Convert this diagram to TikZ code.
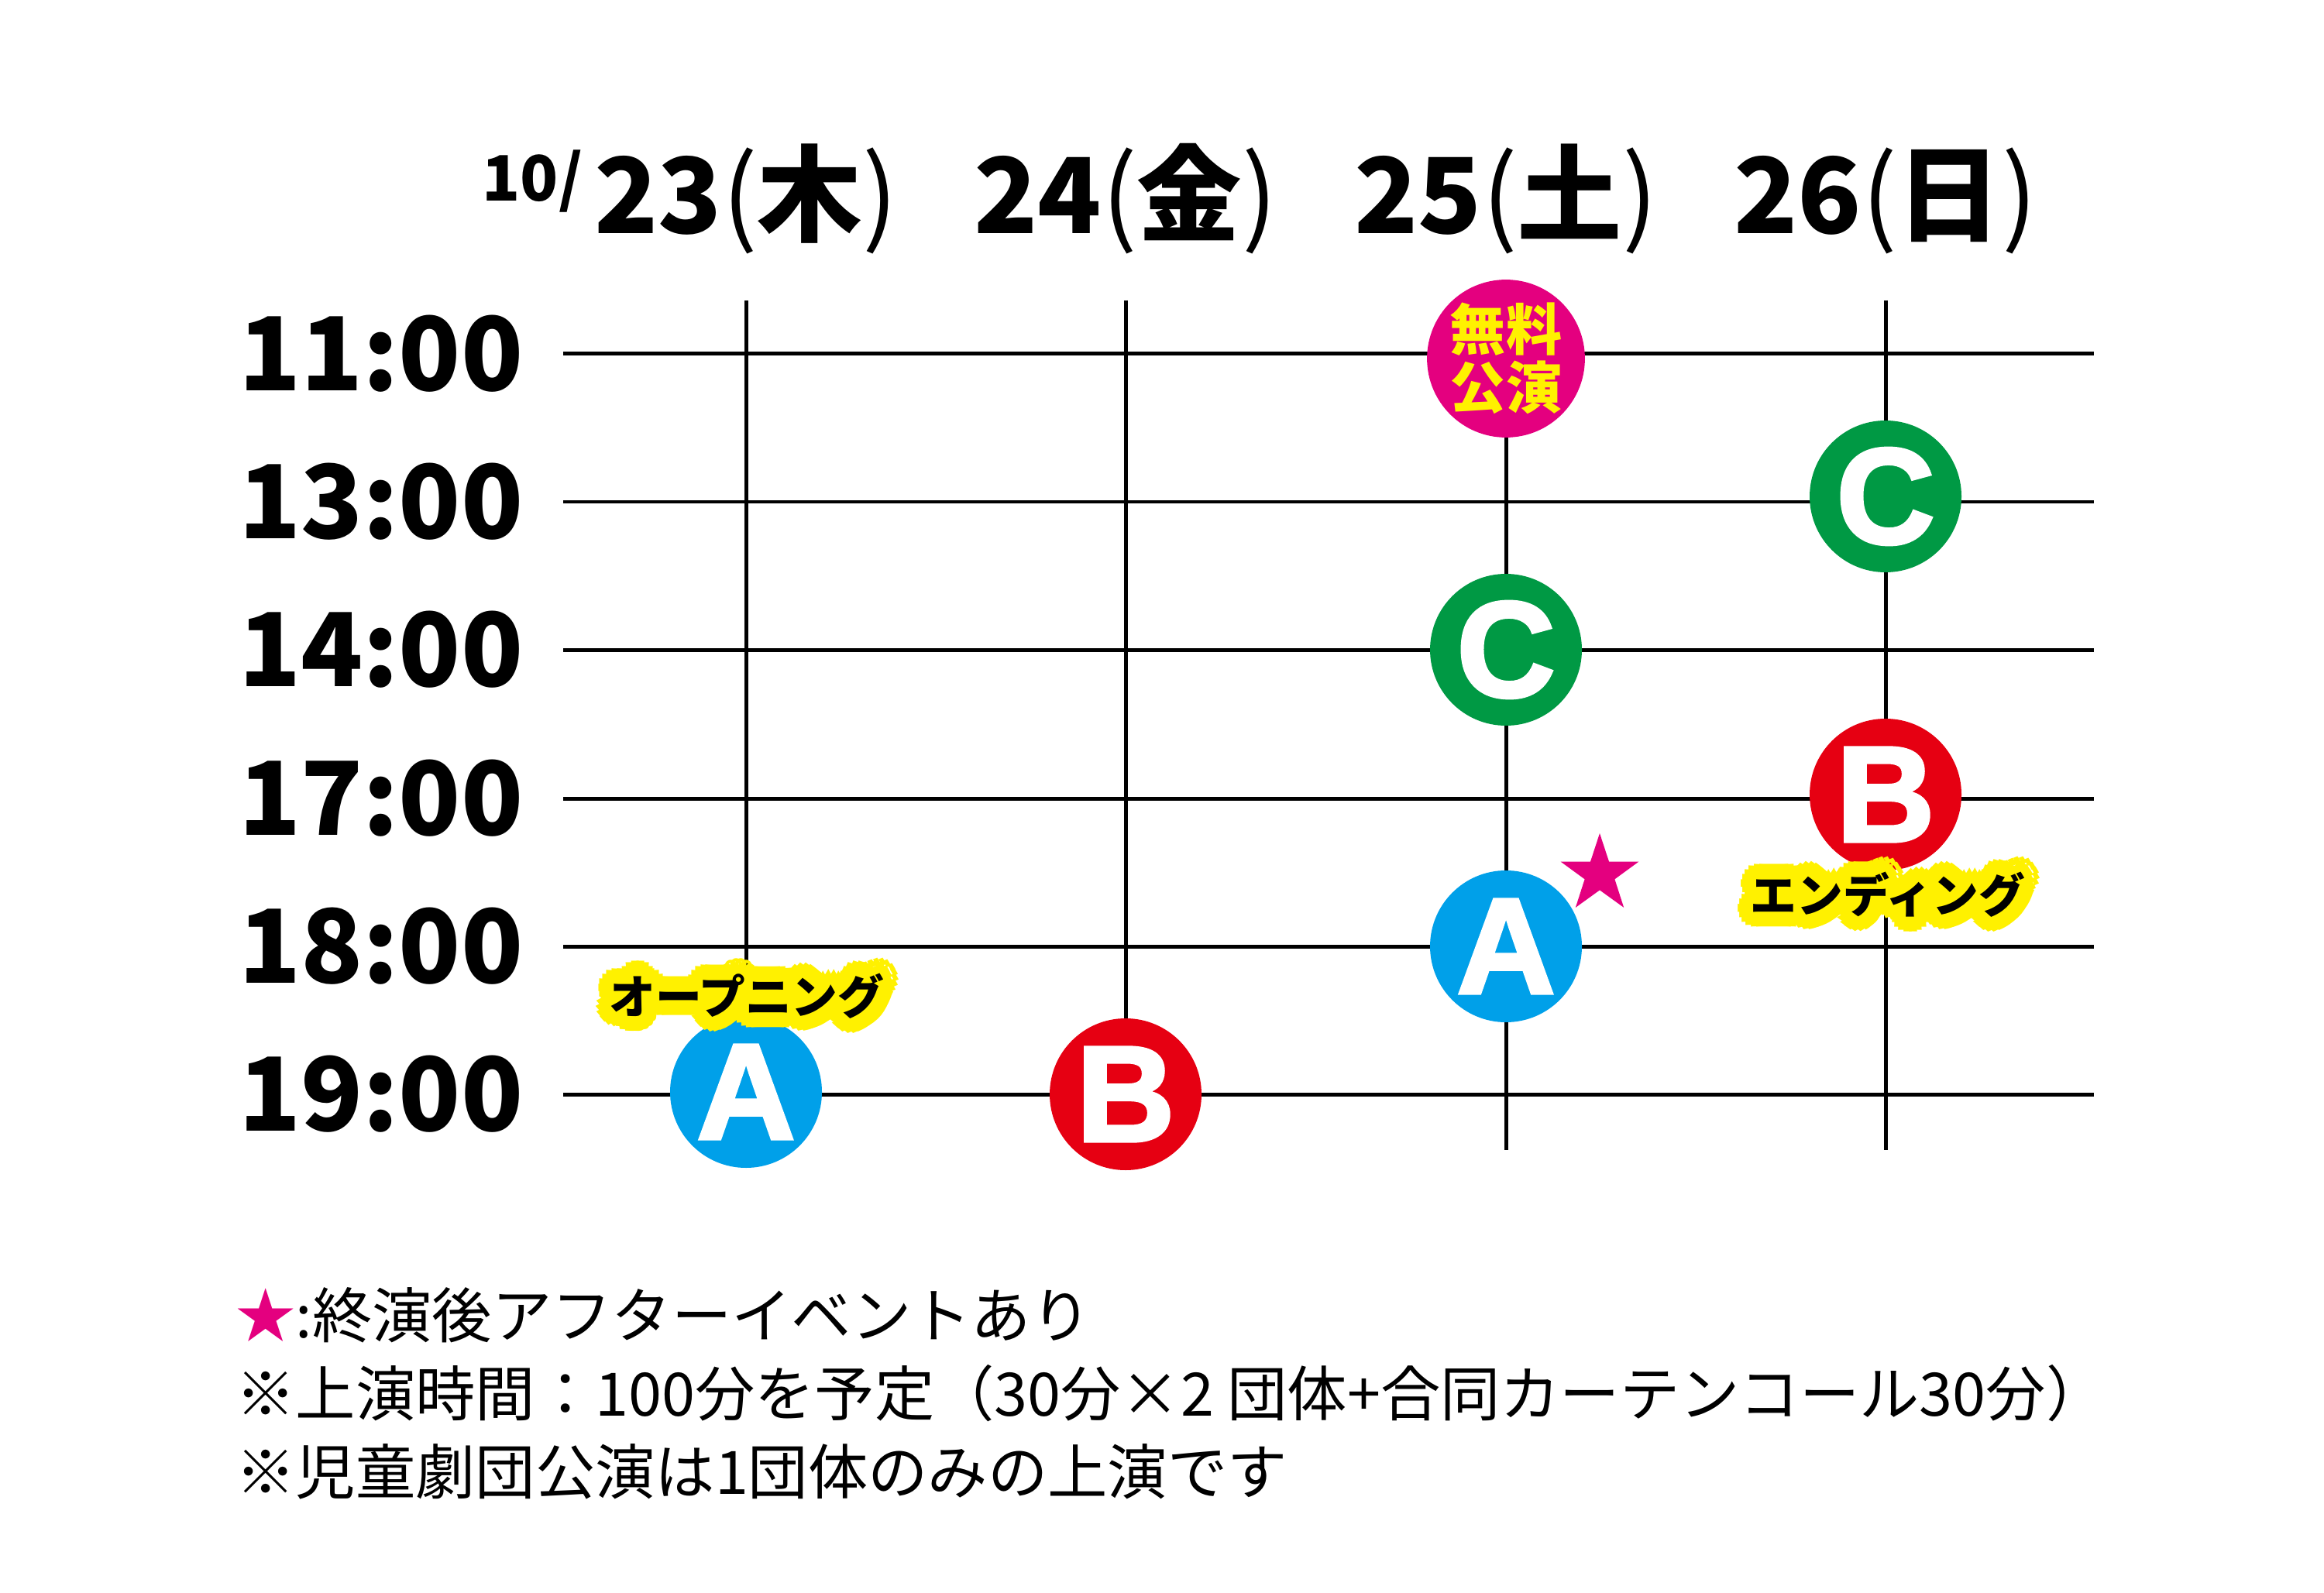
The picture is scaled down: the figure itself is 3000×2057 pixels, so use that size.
\documentclass[tikz,border=0pt]{standalone}
\usepackage{fontspec}
\setmainfont{Noto Sans CJK JP}
\newfontfamily\lettfont{Liberation Sans}[BoldFeatures={FakeBold=2.5}]
\usepackage{tikz}
\usetikzlibrary{calc, shapes.geometric, positioning}
\definecolor{schedblue}{RGB}{0,160,233}
\definecolor{schedred}{RGB}{230,0,18}
\definecolor{schedgreen}{RGB}{0,153,68}
\definecolor{schedmagenta}{RGB}{228,0,127}
\definecolor{schedyellow}{RGB}{255,241,0}
\newcommand{\pl}{{\mdseries(}}
\newcommand{\pr}{{\mdseries)}}

\begin{document}
\begin{tikzpicture}[x=0.1mm, y=-0.1mm, line width=0.5mm,
    date/.style={font=\fontsize{38.5}{40}\selectfont\bfseries, inner sep=0pt, anchor=base},
    hour/.style={font=\fontsize{37.5}{40}\selectfont\bfseries, inner sep=0pt, anchor=east},
    slot/.style={circle, minimum size=19.6mm, inner sep=0pt, text=white,
                 font=\lettfont\fontsize{50}{50}\selectfont\bfseries},
    tag/.style={font=\fontsize{17}{17}\selectfont\bfseries, inner sep=0pt},
    note/.style={font=\fontsize{22}{22}\selectfont, inner sep=0pt, anchor=base west}]
        \useasboundingbox (0,0) rectangle (3000,2057);
        % grid
        \foreach \y in {457,648,839,1031,1222,1413}
            \draw (727,\y) -- (2703,\y);
        \foreach \x in {963,1453,1944,2434}
            \draw (\x,388) -- (\x,1485);
        % days
        \node[date] (d23) at (963,302) {23\pl 木\pr};
        \node[date] (d24) at (1453,302) {24\pl 金\pr};
        \node[date] (d25) at (1944,302) {25\pl 土\pr};
        \node[date] (d26) at (2434,302) {26\pl 日\pr};
        \node[anchor=base east, inner sep=0pt, font=\fontsize{23}{23}\selectfont\bfseries]
            (month) at ([yshift=4.2mm, xshift=-1mm]d23.base west) {10/};
        % hours
        \foreach \t/\y in {11:00/457, 13:00/648, 14:00/839, 17:00/1031, 18:00/1222, 19:00/1413}
            \node[hour] (h\y) at (678,\y) {\t};
        % performances
        \node[slot, fill=schedblue] (a23) at (963,1410) {A};
        \node[slot, fill=schedred] (b24) at (1453,1413) {B};
        \node[slot, fill=schedmagenta, text=schedyellow, align=center,
              font=\fontsize{20.5}{21.3}\selectfont\bfseries] (free25) at (1944,463) {無料\\公演};
        \node[slot, fill=schedgreen] (c25) at (1944,839) {C};
        \node[slot, fill=schedblue] (a25) at (1944,1222) {A};
        \node[slot, fill=schedgreen] (c26) at (2434,641) {C};
        \node[slot, fill=schedred] (b26) at (2434,1026) {B};
        \node[star, star points=5, star point ratio=2.6, minimum size=10.6mm, inner sep=0pt,
              fill=schedmagenta] (after25) at (2065,1129) {};
        % labels with yellow halo
        \coordinate (openpos) at (964,1286);
        \coordinate (endpos) at (2437,1155);
        \foreach \r in {10,20}
            \foreach \a in {0,20,...,340} {
                \node[tag, text=schedyellow] (oh\r-\a) at ($(openpos)+(\a:\r)$) {オープニング};
                \node[tag, text=schedyellow] (eh\r-\a) at ($(endpos)+(\a:\r)$) {エンディング};
            }
        \node[tag] (opening) at (openpos) {オープニング};
        \node[tag] (ending) at (endpos) {エンディング};
        % notes
        \node[note] (note1) at (302,1727) {{\color{schedmagenta}★}:終演後アフターイベントあり};
        \node[note] (note2) at (302,1828) {※上演時間：100分を予定（30分×2 団体+合同カーテンコール30分）};
        \node[note] (note3) at (302,1929) {※児童劇団公演は1団体のみの上演です};
\end{tikzpicture}
\end{document}
